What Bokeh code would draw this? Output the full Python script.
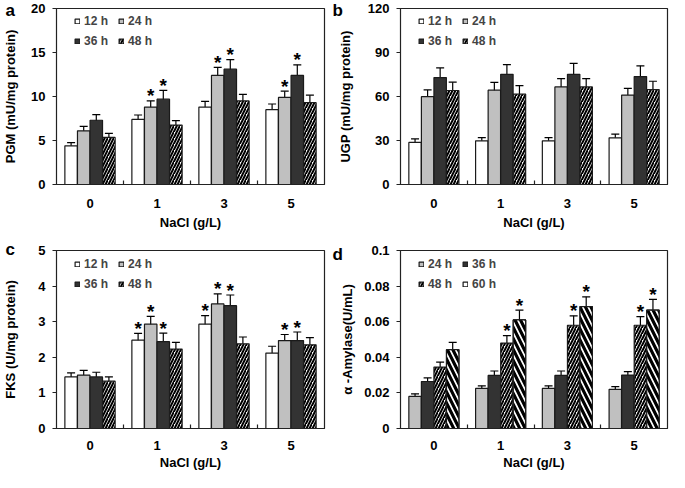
from bokeh.plotting import figure
from bokeh.models import (ColumnDataSource, Range1d, FixedTicker, Whisker, TeeHead,
                          Legend, LegendItem, CustomJSTickFormatter)
from bokeh.transform import dodge
from bokeh.core.properties import value
from bokeh.layouts import column, row
from bokeh.embed import file_html
from bokeh.resources import INLINE

# ---------------- data ----------------
cats = ["0", "1", "3", "5"]
series_abc = ["12 h", "24 h", "36 h", "48 h"]
series_d = ["24 h", "36 h", "48 h", "60 h"]

pgm_12 = [4.4, 7.4, 8.8, 8.5]
pgm_24 = [6.1, 8.8, 12.4, 9.9]
pgm_36 = [7.3, 9.7, 13.1, 12.4]
pgm_48 = [5.35, 6.75, 9.5, 9.3]
pgm_12_err = [0.35, 0.5, 0.65, 0.65]
pgm_24_err = [0.5, 0.7, 0.9, 0.7]
pgm_36_err = [0.65, 1.0, 1.1, 1.2]
pgm_48_err = [0.45, 0.5, 0.75, 0.85]
pgm_star_12 = [0, 0, 0, 0]
pgm_star_24 = [0, 1, 1, 1]
pgm_star_36 = [0, 1, 1, 1]
pgm_star_48 = [0, 0, 0, 0]

ugp_12 = [28.7, 29.8, 29.8, 31.8]
ugp_24 = [59.9, 64.3, 66.5, 61.0]
ugp_36 = [72.9, 75.1, 75.1, 73.6]
ugp_48 = [64.1, 61.7, 66.5, 64.7]
ugp_12_err = [2.4, 2.2, 2.2, 2.6]
ugp_24_err = [4.6, 5.3, 5.7, 4.6]
ugp_36_err = [6.6, 6.6, 7.5, 7.3]
ugp_48_err = [5.7, 5.7, 5.7, 5.7]
ugp_star = [0, 0, 0, 0]

fks_12 = [1.45, 2.48, 2.93, 2.12]
fks_24 = [1.5, 2.93, 3.5, 2.47]
fks_36 = [1.45, 2.44, 3.45, 2.47]
fks_48 = [1.33, 2.23, 2.38, 2.35]
fks_12_err = [0.11, 0.19, 0.24, 0.19]
fks_24_err = [0.13, 0.22, 0.28, 0.17]
fks_36_err = [0.13, 0.24, 0.3, 0.24]
fks_48_err = [0.12, 0.19, 0.19, 0.2]
fks_star_12 = [0, 1, 1, 0]
fks_star_24 = [0, 1, 1, 1]
fks_star_36 = [0, 1, 1, 1]
fks_star_48 = [0, 0, 0, 0]

amy_24 = [0.018, 0.0225, 0.0225, 0.022]
amy_36 = [0.0264, 0.0298, 0.0298, 0.030]
amy_48 = [0.0345, 0.048, 0.058, 0.058]
amy_60 = [0.0443, 0.061, 0.0685, 0.0665]
amy_24_err = [0.0015, 0.0015, 0.0015, 0.0015]
amy_36_err = [0.002, 0.0025, 0.0025, 0.002]
amy_48_err = [0.0028, 0.0042, 0.0053, 0.0048]
amy_60_err = [0.0041, 0.0055, 0.0055, 0.006]
amy_star_24 = [0, 0, 0, 0]
amy_star_36 = [0, 0, 0, 0]
amy_star_48 = [0, 1, 1, 1]
amy_star_60 = [0, 1, 1, 1]

# ---------------- styles ----------------
FONT = "Liberation Sans"
WHITE = dict(fill_color="white")
LGRAY = dict(fill_color="#c0c0c0")
DGRAY = dict(fill_color="#333333")
HATCH_FINE = dict(fill_color="white", hatch_pattern="/", hatch_color="black",
                  hatch_scale=6, hatch_weight=2)
HATCH_WIDE = dict(fill_color="white", hatch_pattern="\\", hatch_color="black",
                  hatch_scale=11, hatch_weight=3.2)
OFFSETS = [-0.282, -0.094, 0.094, 0.282]
BAR_W = 0.186


def make_panel(letter, vals, errs, stars, names, styles, ylabel, yticks, ymax,
               w, h, bl, br, bt, bb, fh, ylab_standoff, xlab_so, xaxlab_so,
               letter_off, legend_styles=None, fmt=None):
    p = figure(width=w, height=h, min_border_left=bl,
               min_border_right=br, min_border_top=bt, min_border_bottom=bb,
               x_range=Range1d(-0.5, 3.5), y_range=Range1d(0, ymax),
               output_backend="svg", toolbar_location=None, tools="")
    p.xgrid.visible = False
    p.ygrid.visible = False
    p.outline_line_color = "#222222"
    p.outline_line_width = 1.2
    p.background_fill_color = "white"
    p.border_fill_color = "white"

    idx = list(range(len(cats)))
    items = []
    for k in range(4):
        v = vals[k]
        e = errs[k]
        src = ColumnDataSource(dict(
            idx=idx, top=v,
            upper=[a + b for a, b in zip(v, e)],
            lower=[a - b for a, b in zip(v, e)],
            star=["*" if s else "" for s in stars[k]]))
        leg_r = None
        if legend_styles is not None and legend_styles[k] is not None:
            # legend swatch styled as in the source figure; drawn underneath
            # the real bars (same geometry), so only the legend shows it
            leg_r = p.vbar(x=dodge("idx", OFFSETS[k]), top="top", width=BAR_W,
                           source=src, line_color="#1a1a1a", line_width=1.2,
                           **legend_styles[k])
        r = p.vbar(x=dodge("idx", OFFSETS[k]), top="top", width=BAR_W, source=src,
                   line_color="#1a1a1a", line_width=1.2, **styles[k])
        items.append(LegendItem(label=names[k], renderers=[leg_r or r]))
        wk = Whisker(base=dodge("idx", OFFSETS[k]), upper="upper", lower="lower",
                     source=src, line_color="black", line_width=1.2,
                     upper_head=TeeHead(size=8, line_color="black", line_width=1.2),
                     lower_head=TeeHead(size=8, line_color="black", line_width=1.2))
        p.add_layout(wk)
        p.text(x=dodge("idx", OFFSETS[k]), y="upper", text="star", source=src,
               text_font=value(FONT), text_font_size="19px", text_font_style="bold",
               text_align="center", text_baseline="alphabetic", y_offset=-5,
               text_color="black")

    leg = Legend(items=items, ncols=2, orientation="horizontal",
                 location=(18, fh - 9 - 32), margin=0, padding=0,
                 glyph_width=6, glyph_height=6, label_standoff=4,
                 label_width=28, label_height=13, spacing=6,
                 label_text_font=FONT, label_text_font_style="bold",
                 label_text_font_size="12px",
                 background_fill_alpha=0, border_line_color=None)
    p.add_layout(leg)

    # x axis
    xa = p.xaxis[0]
    xa.ticker = FixedTicker(ticks=idx, minor_ticks=[0.5, 1.5, 2.5])
    xa.major_label_overrides = {i: c for i, c in zip(idx, cats)}
    xa.major_tick_in = 0
    xa.major_tick_out = 0
    xa.minor_tick_in = 4
    xa.minor_tick_out = 0
    xa.minor_tick_line_color = "#222222"
    xa.minor_tick_line_width = 1.2
    xa.axis_line_color = "#222222"
    xa.axis_label = "NaCl (g/L)"
    xa.major_label_standoff = xlab_so
    xa.axis_label_standoff = xaxlab_so
    xa.major_label_text_font = FONT
    xa.major_label_text_font_style = "bold"
    xa.major_label_text_font_size = "13px"
    xa.axis_label_text_font = FONT
    xa.axis_label_text_font_style = "bold"
    xa.axis_label_text_font_size = "13px"
    xa.major_label_text_color = "black"
    xa.axis_label_text_color = "black"

    ya = p.yaxis[0]
    ya.ticker = FixedTicker(ticks=yticks, minor_ticks=[])
    ya.major_tick_in = 0
    ya.major_tick_out = 4
    ya.major_tick_line_color = "#222222"
    ya.major_tick_line_width = 1.2
    ya.minor_tick_line_color = None
    ya.axis_line_color = "#222222"
    ya.axis_label = ylabel
    ya.major_label_standoff = 7
    ya.axis_label_standoff = ylab_standoff
    ya.major_label_text_font = FONT
    ya.major_label_text_font_style = "bold"
    ya.major_label_text_font_size = "13px"
    ya.axis_label_text_font = FONT
    ya.axis_label_text_font_style = "bold"
    ya.axis_label_text_font_size = "13px"
    ya.major_label_text_color = "black"
    ya.axis_label_text_color = "black"
    if fmt is not None:
        ya.formatter = fmt

    # panel letter, anchored at the frame's top-left corner
    lsrc = ColumnDataSource(dict(x=[-0.5], y=[ymax], t=[letter]))
    p.text(x="x", y="y", text="t", source=lsrc, x_offset=letter_off[0],
           y_offset=letter_off[1], text_font=value(FONT),
           text_font_style="bold", text_font_size="17px",
           text_baseline="top", text_align="left", text_color="black",
           level="overlay")
    return p


amy_fmt = CustomJSTickFormatter(code="""
var s = tick.toFixed(2);
s = s.replace(/0+$/, '').replace(/\\.$/, '');
return s;
""")

# row 1: height 232 = 8 + 177 + 47 ; row 2: height 240 = 18 + 178 + 44
pa = make_panel("a", [pgm_12, pgm_24, pgm_36, pgm_48],
                [pgm_12_err, pgm_24_err, pgm_36_err, pgm_48_err],
                [pgm_star_12, pgm_star_24, pgm_star_36, pgm_star_48],
                series_abc, [WHITE, LGRAY, DGRAY, HATCH_FINE],
                "PGM (mU/mg protein)", [0, 5, 10, 15, 20], 20,
                330, 232, 52, 6, 8, 47, 177, 10, 14, 4, (-51, -8))
pb = make_panel("b", [ugp_12, ugp_24, ugp_36, ugp_48],
                [ugp_12_err, ugp_24_err, ugp_36_err, ugp_48_err],
                [ugp_star] * 4,
                series_abc, [WHITE, LGRAY, DGRAY, HATCH_FINE],
                "UGP (mU/mg protein)", [0, 30, 60, 90, 120], 120,
                339, 232, 70, 2, 8, 47, 177, 12, 14, 4, (-68, -8))
pc = make_panel("c", [fks_12, fks_24, fks_36, fks_48],
                [fks_12_err, fks_24_err, fks_36_err, fks_48_err],
                [fks_star_12, fks_star_24, fks_star_36, fks_star_48],
                series_abc, [WHITE, LGRAY, DGRAY, HATCH_FINE],
                "FKS (U/mg protein)", [0, 1, 2, 3, 4, 5], 5,
                330, 240, 52, 6, 18, 44, 178, 17, 12, 2, (-51, -11))
pd_ = make_panel("d", [amy_24, amy_36, amy_48, amy_60],
                 [amy_24_err, amy_36_err, amy_48_err, amy_60_err],
                 [amy_star_24, amy_star_36, amy_star_48, amy_star_60],
                 series_d, [LGRAY, DGRAY, HATCH_FINE, HATCH_WIDE],
                 "\u03b1 -Amylase(U/mL)", [0, 0.02, 0.04, 0.06, 0.08, 0.1], 0.1,
                 339, 240, 70, 2, 18, 44, 178, 6, 12, 2, (-68, -6),
                 legend_styles=[None, None, None, WHITE], fmt=amy_fmt)

layout = column(row(pa, pb), row(pc, pd_))
open("out.html", "w").write(file_html(layout, INLINE))
